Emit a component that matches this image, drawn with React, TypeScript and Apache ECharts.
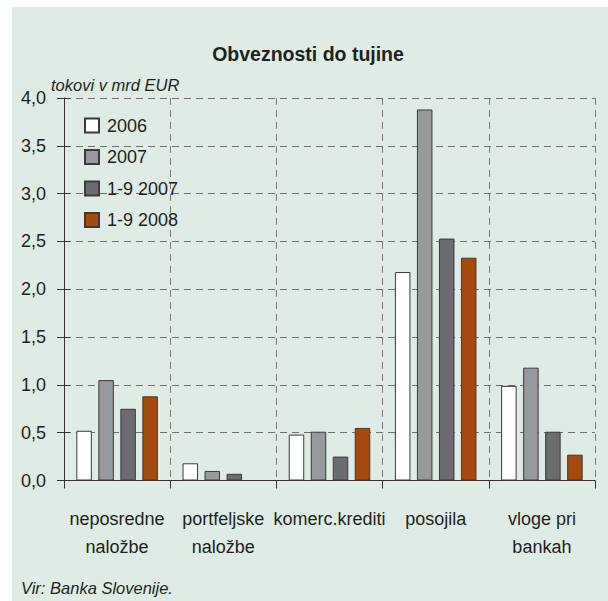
import React, { useEffect, useRef } from "react";
import * as echarts from "echarts";

const categories = [
  "neposredne\nnaložbe",
  "portfeljske\nnaložbe",
  "komerc.krediti",
  "posojila",
  "vloge pri\nbankah",
];
const seriesNames = ["2006", "2007", "1-9 2007", "1-9 2008"];
const values2006 = [0.52, 0.18, 0.48, 2.18, 0.99];
const values2007 = [1.05, 0.1, 0.51, 3.88, 1.18];
const values2007p = [0.75, 0.07, 0.25, 2.53, 0.51];
const values2008p: (number | null)[] = [0.88, null, 0.55, 2.33, 0.27];
const seriesColors = ["#ffffff", "#98999d", "#6b6c70", "#a5490c"];

const FONT = "'Liberation Sans', Arial, Helvetica, sans-serif";
const TEXT = "#231f20";

export default function App() {
  const ref = useRef<HTMLDivElement>(null);
  useEffect(() => {
    document.body.style.margin = "0";
    if (!ref.current) return;
    const chart = echarts.init(ref.current, null, { renderer: "svg" });
    const data = [values2006, values2007, values2007p, values2008p];
    chart.setOption({
      animation: false,
      backgroundColor: "#ffffff",
      textStyle: { fontFamily: FONT, color: TEXT },
      title: {
        text: "Obveznosti do tujine",
        left: 308,
        textAlign: "center",
        top: 44,
        padding: 0,
        textStyle: { fontFamily: FONT, fontSize: 19.5, fontWeight: "bold", color: TEXT },
      },
      graphic: [
        {
          type: "rect",
          z: -100,
          silent: true,
          shape: { x: 12, y: 7, width: 596, height: 594 },
          style: { fill: "#deece5" },
        },
        {
          type: "text",
          x: 51,
          y: 85,
          style: {
            text: "tokovi v mrd EUR",
            font: `italic 16.5px ${FONT}`,
            fill: TEXT,
            verticalAlign: "middle",
          },
        },
        {
          type: "text",
          x: 21,
          y: 588,
          style: {
            text: "Vir: Banka Slovenije.",
            font: `italic 16.5px ${FONT}`,
            fill: TEXT,
            verticalAlign: "middle",
          },
        },
      ],
      legend: {
        orient: "vertical",
        left: 84,
        top: 116.5,
        padding: 0,
        itemWidth: 14,
        itemHeight: 14,
        itemGap: 13.5,
        icon: "rect",
        data: seriesNames,
        textStyle: {
          fontFamily: FONT,
          fontSize: 18,
          lineHeight: 14,
          color: TEXT,
          padding: [0, 0, 0, 3],
        },
      },
      grid: { left: 64, right: 13, top: 98, bottom: 120.5, containLabel: false },
      xAxis: {
        type: "category",
        data: categories,
        axisLine: { lineStyle: { color: "#333333", width: 1 } },
        axisTick: { show: true, length: 8, lineStyle: { color: "#333333" } },
        axisLabel: {
          interval: 0,
          fontFamily: FONT,
          fontSize: 18,
          lineHeight: 28,
          margin: 24,
          color: TEXT,
        },
        splitLine: {
          show: true,
          interval: 0,
          lineStyle: { color: "#7a7a7a", type: [7, 5], width: 1 },
        },
      },
      yAxis: [
        {
          type: "value",
          min: 0,
          max: 4,
          interval: 0.5,
          axisLine: { show: true, lineStyle: { color: "#333333", width: 1 } },
          axisTick: { show: true, length: 7, lineStyle: { color: "#333333" } },
          axisLabel: {
            fontFamily: FONT,
            fontSize: 18,
            margin: 18,
            color: TEXT,
            formatter: (v: number) => v.toFixed(1).replace(".", ","),
          },
          splitLine: {
            show: true,
            lineStyle: { color: "#6f6f6f", type: [7, 5], width: 1 },
          },
        },
        {
          type: "value",
          min: 0,
          max: 4,
          interval: 0.5,
          position: "left",
          axisLine: { show: false },
          axisTick: { show: true, inside: true, length: 6, lineStyle: { color: "#333333" } },
          axisLabel: { show: false },
          splitLine: { show: false },
        },
      ],
      series: seriesNames.map((name, i) => ({
        name,
        type: "bar",
        yAxisIndex: 0,
        data: data[i],
        barWidth: 15.5,
        barGap: "42%",
        itemStyle: {
          color: seriesColors[i],
          borderColor: "#3a3a3a",
          borderWidth: 1,
        },
      })),
    });
    return () => chart.dispose();
  }, []);
  return <div ref={ref} style={{ width: 608, height: 601 }} />;
}
